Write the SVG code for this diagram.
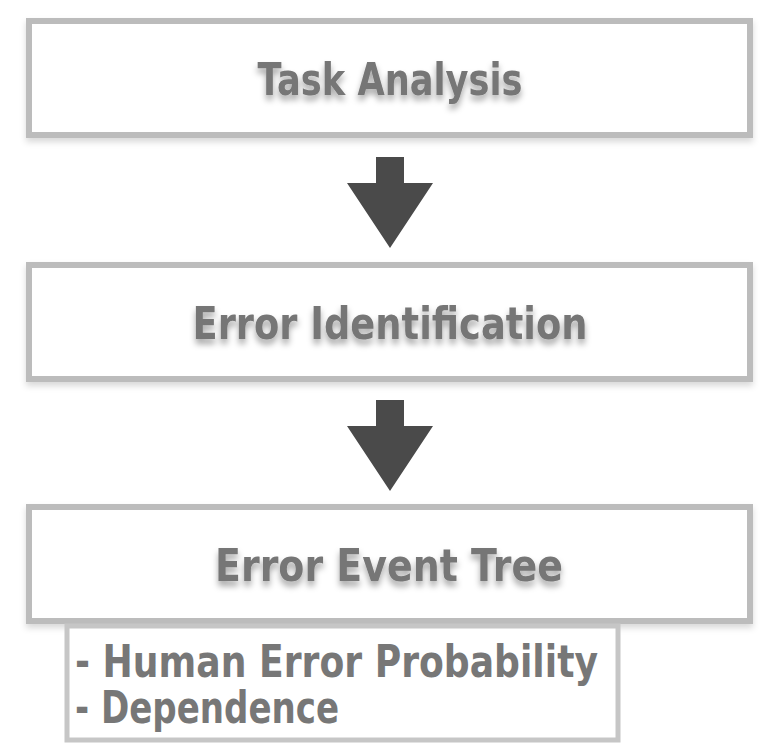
<svg xmlns="http://www.w3.org/2000/svg" width="774" height="756" viewBox="0 0 774 756">
<defs>
<filter id="ts" x="-10%" y="-30%" width="120%" height="170%">
<feDropShadow dx="0" dy="5" stdDeviation="3" flood-color="#000" flood-opacity="0.35"/>
</filter>
<filter id="bs" x="-5%" y="-20%" width="110%" height="150%">
<feDropShadow dx="0" dy="4" stdDeviation="3" flood-color="#000" flood-opacity="0.15"/>
</filter>
</defs>
<style>
.box{fill:#fff;stroke:#bcbcbc;stroke-width:6}
.title{font-family:"DejaVu Sans","Liberation Sans",sans-serif;font-weight:bold;font-size:44px;fill:#767676;text-anchor:middle}
.list{fill:#fff;stroke:#c6c6c6;stroke-width:5}
.item{font-family:"DejaVu Sans Condensed","DejaVu Sans",sans-serif;font-weight:bold;font-size:44px;fill:#777}
.arrow{fill:#4a4a4a}
</style>
<rect width="774" height="756" fill="#fff"/>
<g id="task-analysis">
<rect class="box" x="29" y="21" width="721" height="114" filter="url(#bs)"/>
<text class="title" x="390" y="95" textLength="265" lengthAdjust="spacingAndGlyphs" filter="url(#ts)">Task Analysis</text>
</g>
<g id="error-identification">
<rect class="box" x="29" y="265" width="721" height="114" filter="url(#bs)"/>
<text class="title" x="390" y="339" textLength="395" lengthAdjust="spacingAndGlyphs" filter="url(#ts)">Error Identification</text>
</g>
<g id="error-event-tree">
<rect class="box" x="29" y="507" width="721" height="114" filter="url(#bs)"/>
<text class="title" x="389" y="581" textLength="348" lengthAdjust="spacingAndGlyphs" filter="url(#ts)">Error Event Tree</text>
</g>
<g id="details">
<rect class="list" x="67" y="626" width="551" height="114"/>
<text class="item" x="75" y="677" textLength="523" lengthAdjust="spacingAndGlyphs">- Human Error Probability</text>
<text class="item" x="75" y="723" textLength="264" lengthAdjust="spacingAndGlyphs">- Dependence</text>
</g>
<g id="connectors">
<path class="arrow" d="M376,157 H404 V183 H433 L390,248 L347,183 H376 Z"/>
<path class="arrow" d="M376,400 H404 V426 H433 L390,491 L347,426 H376 Z"/>
</g>
</svg>
